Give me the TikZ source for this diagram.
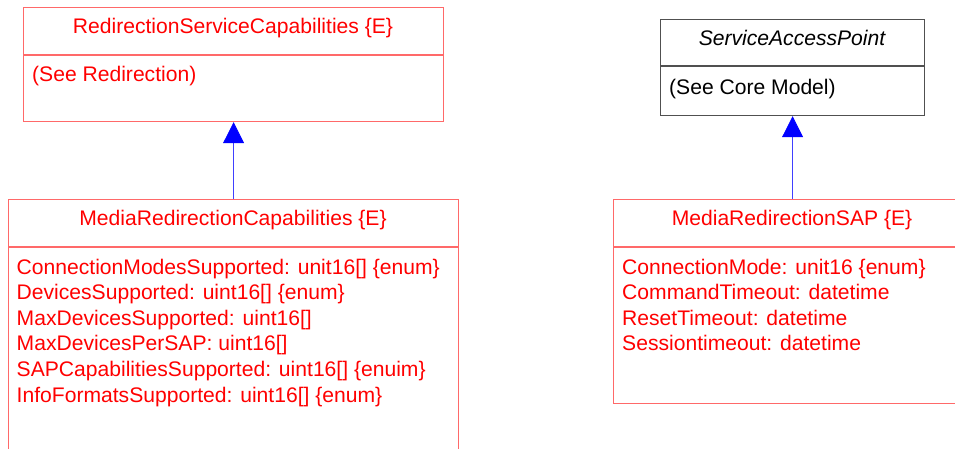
\documentclass[tikz,border=0pt]{standalone}
\usepackage{fontspec}
\setmainfont{Liberation Sans}
\usetikzlibrary{arrows.meta}

\definecolor{umlred}{RGB}{255,0,0}
\definecolor{boxred}{RGB}{255,105,105}
\definecolor{boxgray}{RGB}{80,80,80}
\definecolor{umlblue}{RGB}{0,0,255}

\newcommand{\umlfont}{\fontsize{21.1}{25.6}\selectfont}

\tikzset{
  classbox/.style={draw=boxred, line width=1.2pt, inner sep=0pt, anchor=north west},
  classtitle/.style={anchor=base, inner sep=0pt, text=umlred, font=\umlfont},
  attr/.style={anchor=base west, inner sep=0pt, text=umlred, font=\umlfont},
  divider/.style={draw=boxred, line width=1.2pt},
  inherit/.style={draw=umlblue!75, line width=0.8pt,
    -{Triangle[width=21pt,length=21pt,fill=umlblue,color=umlblue]}}
}

\begin{document}
\begin{tikzpicture}[x=1pt,y=-1pt]
\useasboundingbox (0,0) rectangle (955,449);
\clip (0,0) rectangle (955,449);

% RedirectionServiceCapabilities
\node[classbox, minimum width=420pt, minimum height=114pt] (rsc) at (23,7) {};
\draw[divider] (rsc.west |- 0,55) -- (rsc.east |- 0,55);
\node[classtitle] (rsc-title) at (233,34) {RedirectionServiceCapabilities \{E\}};
\node[attr] (rsc-attr) at (32,82) {(See Redirection)};

% ServiceAccessPoint
\node[classbox, draw=boxgray, minimum width=264pt, minimum height=96pt] (sap) at (660,19) {};
\draw[divider, draw=boxgray] (sap.west |- 0,66) -- (sap.east |- 0,66);
\node[classtitle, text=black, font=\umlfont\itshape] (sap-title) at (792,46) {ServiceAccessPoint};
\node[attr, text=black] (sap-attr) at (669,95) {(See Core Model)};

% MediaRedirectionCapabilities
\node[classbox, minimum width=450pt, minimum height=290pt] (mrc) at (8,199) {};
\draw[divider] (mrc.west |- 0,247) -- (mrc.east |- 0,247);
\node[classtitle] (mrc-title) at (233,225) {MediaRedirectionCapabilities \{E\}};
\foreach \txt [count=\i] in {%
  {ConnectionModesSupported: unit16[] \{enum\}},
  {DevicesSupported: uint16[] \{enum\}},
  {MaxDevicesSupported: uint16[]},
  {MaxDevicesPerSAP: uint16[]},
  {SAPCapabilitiesSupported: uint16[] \{enuim\}},
  {InfoFormatsSupported: uint16[] \{enum\}}}
  \node[attr] (mrc-attr-\i) at (16.5,248.4+25.6*\i) {\txt};

% MediaRedirectionSAP
\node[classbox, minimum width=400pt, minimum height=204pt] (mrsap) at (613,199) {};
\draw[divider] (mrsap.west |- 0,247) -- (mrsap.east |- 0,247);
\node[classtitle] (mrsap-title) at (792,225) {MediaRedirectionSAP \{E\}};
\foreach \txt [count=\i] in {%
  {ConnectionMode: unit16 \{enum\}},
  {CommandTimeout: datetime},
  {ResetTimeout: datetime},
  {Sessiontimeout: datetime}}
  \node[attr] (mrsap-attr-\i) at (622,248.4+25.6*\i) {\txt};

% Inheritance
\draw[inherit] (mrc.north -| rsc.south) -- (rsc.south);
\draw[inherit] (sap.south |- mrsap.north) -- (sap.south);
\end{tikzpicture}
\end{document}
